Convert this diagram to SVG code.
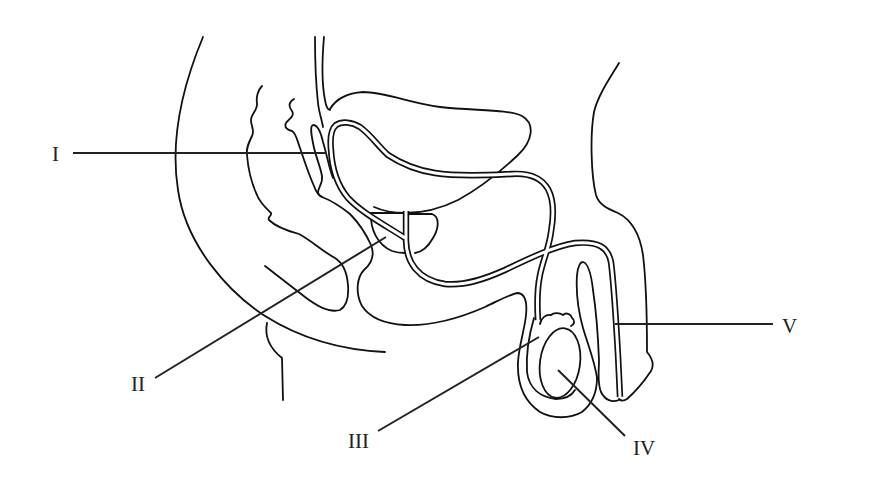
<svg xmlns="http://www.w3.org/2000/svg" width="884" height="486" viewBox="0 0 884 486">
<style>
.o{fill:none;stroke:#111;stroke-width:1.8;stroke-linecap:round;stroke-linejoin:round}
.tb{fill:none;stroke:#111;stroke-width:6.4;stroke-linecap:butt;stroke-linejoin:round}
.tw{fill:none;stroke:#fff;stroke-width:3;stroke-linecap:butt;stroke-linejoin:round}
.ld{fill:none;stroke:#222;stroke-width:2}
.lb{font-family:"Liberation Serif","Times New Roman",serif;font-size:21px;fill:#222}
</style>
<defs>
<path id="vas" d="M538,320 C537,304 537,289 540,275 C543,260 549,248 551,232 C554,215 554,200 548,189 C541,177 528,173 512,174 C490,175 460,177 435,173 C415,170 400,163 388,155 C378,146 371,135 360,127 C352,122 342,121 336,125 C330,130 330,140 331,150 C332,168 337,185 348,198 C362,213 385,225 405,238"/>
<path id="ure" d="M406,211 L406,240 C406,262 418,280 445,284 C465,286 485,279 505,270 C530,258 555,246 575,243 C598,241 608,247 611,262 C614,285 616,320 618,355 L620,397"/>
</defs>
<rect width="884" height="486" fill="#fff"/>
<g id="anatomy">
<path class="o" d="M203,37 C183,85 170,140 178,190 C186,245 228,292 265,316 C300,338 340,350 385,352"/>
<path class="o" d="M267,323 C264,338 272,350 282,358 L283,400"/>
<path class="o" d="M262,86 C258,90 256,97 257,103 C258,110 251,114 251,120 C251,127 255,130 252,136 C249,142 246,148 247,155 C248,168 251,182 257,195 C260,203 266,208 271,213 C272,216 267,217 269,220 C275,226 288,231 299,234 C312,241 322,251 335,258 C343,263 347,272 348,285 C349,298 347,306 340,310 C330,313 318,307 305,297 C292,287 278,276 265,266"/>
<path class="o" d="M294,99 C289,102 288,106 292,111 C295,116 289,119 286,123 C284,127 287,130 292,131 C296,133 297,140 300,148 C304,160 309,175 314,186 C316,192 318,195 322,197 C330,200 340,206 350,214 C358,222 366,234 371,245 C375,255 372,263 364,270 C357,277 355,293 362,306 C370,318 385,324 405,325 C430,326 460,318 485,307 C500,300 510,294 518,293 C526,294 527,305 526,315 C525,328 519,345 518,362 C517,385 525,402 540,412 C552,419 570,419 582,412 C592,404 597,392 597,378 C595,362 588,345 583,328 C578,310 576,290 577,275 C578,266 580,262 583,262 C587,263 591,272 593,290 C596,310 598,335 599,360 C599,372 597,382 601,392 C605,400 612,403 619,400"/>
<path class="o" d="M315,37 C315,60 316,85 318,103 C319,113 322,120 323,127"/>
<path class="o" d="M324,37 C322,60 322,85 325,100 C326,106 328,110 330,110"/>
<path class="o" d="M330,109 C336,99 348,93 363,92 C385,92 410,103 440,107 C475,111 508,109 522,116 C536,124 532,142 518,155 C500,172 480,188 458,200 C440,209 420,213 405,213 C393,213 383,211 374,207"/>
<path class="o" d="M333,178 C329,168 327,155 323,142 C321,133 318,125 313,125 C310,126 311,133 313,143 C315,155 320,165 322,176 C323,183 319,186 318,192 C318,195 320,196 322,197"/>
<path class="o" d="M371,213 L404,213 M371,213 C370,230 378,245 392,251 C398,253 402,253 405,253"/>
<path class="o" d="M409,214 L432,214 C440,217 439,228 433,238 C428,247 422,252 415,253"/>
<path class="o" d="M619,63 C610,78 598,95 594,112 C590,135 591,175 596,195 C599,205 608,209 618,213 C632,220 640,235 643,255 C646,280 647,320 647,352 C652,358 655,364 651,371 C645,380 635,392 627,399 C624,401 621,401 619,399"/>
<path class="o" d="M534,318 C529,335 526,355 527,372 C529,388 540,397 556,399 C566,399 572,395 575,390"/>
<path class="o" d="M540,324 C541,318 546,314 551,315 C554,312 560,313 563,315 C566,312 571,314 572,318 C575,320 575,324 571,326"/>
<ellipse class="o" cx="560" cy="363" rx="20" ry="35" transform="rotate(8 560 363)"/>
<use href="#vas" class="tb"/>
<use href="#ure" class="tb"/>
<use href="#vas" class="tw"/>
<use href="#ure" class="tw"/>
</g>
<g id="labels">
<line class="ld" x1="73" y1="153" x2="325" y2="153"/>
<line class="ld" x1="155" y1="378" x2="386" y2="237"/>
<line class="ld" x1="378" y1="431" x2="539" y2="337"/>
<line class="ld" x1="558" y1="370" x2="625" y2="436"/>
<line class="ld" x1="615" y1="324" x2="773" y2="324"/>
<text class="lb" x="52" y="161">I</text>
<text class="lb" x="131" y="391">II</text>
<text class="lb" x="348" y="448">III</text>
<text class="lb" x="633" y="455">IV</text>
<text class="lb" x="782" y="333">V</text>
</g>
</svg>
